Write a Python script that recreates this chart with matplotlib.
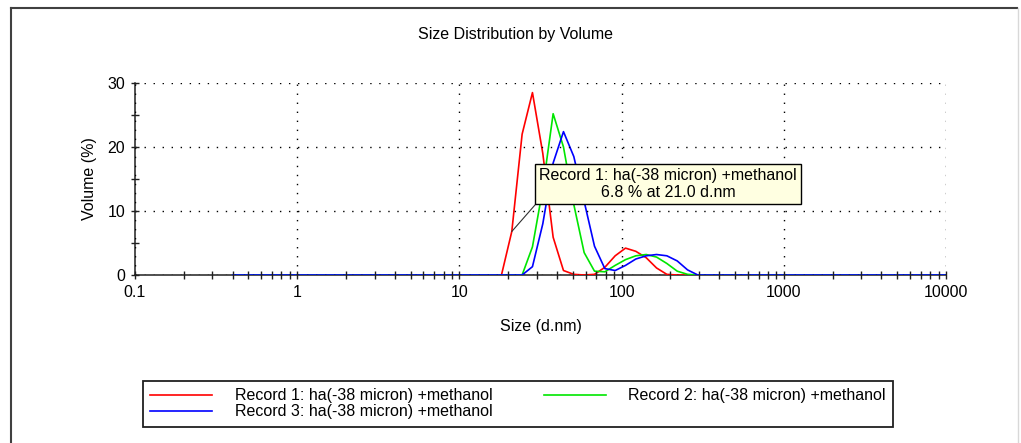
import matplotlib.pyplot as plt
from matplotlib.lines import Line2D
from matplotlib.ticker import FixedLocator, LogLocator, NullFormatter

plt.rcParams['font.family'] = ['Liberation Sans', 'DejaVu Sans']

# size classes (d.nm) - only the ones where something happens, plus the ends
sizes = [0.4, 18.17, 21.04, 24.36, 28.21, 32.67, 37.84, 43.82, 50.75, 58.77,
         68.06, 78.82, 91.28, 105.7, 122.4, 141.8, 164.2, 190.1, 220.2, 255.0,
         295.3, 10000]

record1 = [0, 0, 6.8, 22.0, 28.5, 19.0, 5.9, 0.7, 0.1, 0, 0.1, 1.2, 3.0, 4.2,
           3.7, 2.7, 1.1, 0.1, 0, 0, 0, 0]
record2 = [0, 0, 0, 0, 4.4, 13.5, 25.2, 20.0, 11.0, 3.5, 0.6, 0.5, 1.5, 2.4,
           3.0, 3.2, 2.8, 1.8, 0.6, 0.1, 0, 0]
record3 = [0, 0, 0, 0, 1.3, 8.0, 17.5, 22.4, 18.5, 11.5, 4.5, 1.0, 0.7, 1.5,
           2.5, 3.0, 3.2, 3.0, 2.2, 0.8, 0, 0]

label = 'ha(-38 micron) +methanol'
x_ticks = [0.1, 1, 10, 100, 1000, 10000]
tip_index = 2

fig = plt.figure(figsize=(10.21, 4.43), dpi=100)
ax = fig.add_axes([135 / 1021, 168 / 443, 811 / 1021, 192 / 443])

fs = 11.5
l1, = ax.plot(sizes, record1, color='#ff0000', lw=1.2, zorder=3,
              label='Record 1: ' + label)
l2, = ax.plot(sizes, record2, color='#00e600', lw=1.2, zorder=3,
              label='Record 2: ' + label)
l3, = ax.plot(sizes, record3, color='#0000ff', lw=1.2, zorder=3,
              label='Record 3: ' + label)

ax.set_xscale('log')
ax.set_xlim(0.1, 10000)
ax.set_ylim(0, 30)
ax.xaxis.set_major_locator(FixedLocator(x_ticks))
ax.set_xticklabels([('%g' % t) for t in x_ticks])
ax.xaxis.set_minor_locator(LogLocator(base=10, subs=range(2, 10)))
ax.xaxis.set_minor_formatter(NullFormatter())
ax.set_yticks([0, 10, 20, 30])
ax.set_yticks([5, 15, 25], minor=True)

for s in ['top', 'right']:
    ax.spines[s].set_visible(False)
for s in ['left', 'bottom']:
    ax.spines[s].set_linewidth(1.1)
    ax.spines[s].set_color('#202020')

ax.tick_params(which='both', direction='inout', length=6, width=1,
               color='#202020', labelsize=fs, pad=4)
ax.grid(True, which='major', color='black', lw=1, linestyle=(0, (1, 5.5)))
ax.xaxis.set_zorder(3.5)
ax.yaxis.set_zorder(3.5)

ax.set_xlabel('Size (d.nm)', fontsize=fs)
ax.set_ylabel('Volume (%)', fontsize=fs)
ax.xaxis.set_label_coords(0.5, -0.229)
ax.yaxis.set_label_coords(-0.047, 0.5)

fig.text(516 / 1021, 1 - 34 / 443, 'Size Distribution by Volume',
         fontsize=fs, ha='center', va='center')

# tooltip
tip_text = 'Record 1: %s\n%.1f %% at %.1f d.nm' % (label, record1[tip_index],
                                                     sizes[tip_index])
ax.annotate(tip_text, xy=(sizes[tip_index], record1[tip_index]),
            xytext=(668 / 1021, 1 - 184 / 443), textcoords='figure fraction',
            ha='center', va='center', multialignment='center', fontsize=fs,
            bbox=dict(boxstyle='square,pad=0.25', fc='#ffffe1', ec='black', lw=1),
            arrowprops=dict(arrowstyle='-', color='#303030', lw=0.8,
                            relpos=(0, 0), shrinkA=0, shrinkB=0),
            zorder=5)

leg = fig.legend(handles=[l1, l3, l2], ncol=2, loc='upper left',
                 bbox_to_anchor=(143 / 1021, 1 - 381 / 443), borderaxespad=0,
                 fontsize=fs, handlelength=3.9, handletextpad=1.4,
                 columnspacing=3.2, labelspacing=0.08, borderpad=0.45,
                 fancybox=False, framealpha=1, edgecolor='#202020')
leg.get_frame().set_linewidth(1.3)

# outer frame of the report panel
fig.add_artist(Line2D([10.5 / 1021, 10.5 / 1021], [0, 1 - 7.5 / 443],
                      transform=fig.transFigure, color='#404040', lw=1.5))
fig.add_artist(Line2D([10.5 / 1021, 1017 / 1021], [1 - 7.5 / 443, 1 - 7.5 / 443],
                      transform=fig.transFigure, color='#404040', lw=1.5))
fig.add_artist(Line2D([1018 / 1021, 1018 / 1021], [0, 1 - 7.5 / 443],
                      transform=fig.transFigure, color='#d8d8d8', lw=1))

fig.savefig('out.png', dpi=100)
